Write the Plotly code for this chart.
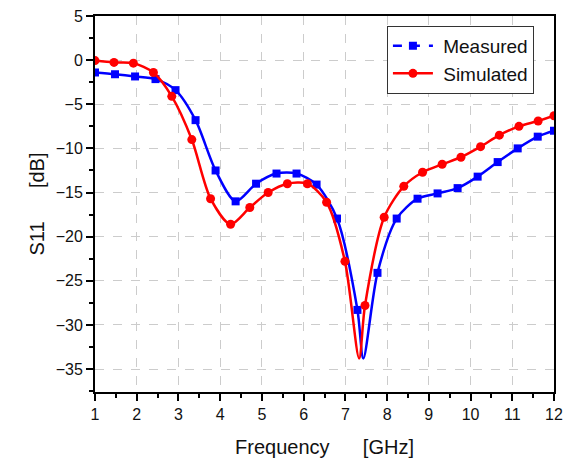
import plotly.graph_objects as go

# Measured (blue squares)
meas_x = [1.0, 1.48, 1.96, 2.45, 2.93, 3.41, 3.89, 4.37, 4.86, 5.35, 5.83, 6.31,
          6.80, 7.29, 7.77, 8.23, 8.73, 9.21, 9.69, 10.17, 10.65, 11.13, 11.61, 12.0]
meas_y = [-1.4, -1.6, -1.85, -2.15, -3.4, -6.8, -12.5, -16.0, -14.0, -12.85, -12.85, -14.1,
          -17.95, -28.3, -24.1, -17.95, -15.7, -15.1, -14.5, -13.2, -11.55, -10.0, -8.67, -8.0]
meas_min_x = [7.43]
meas_min_y = [-33.8]

# Simulated (red circles)
sim_x = [1.0, 1.455, 1.92, 2.40, 2.84, 3.32, 3.77, 4.25, 4.71, 5.15, 5.61, 6.09,
         6.55, 6.99, 7.47, 7.93, 8.40, 8.85, 9.32, 9.77, 10.24, 10.69, 11.16, 11.62, 12.0]
sim_y = [-0.05, -0.26, -0.34, -1.4, -4.1, -9.0, -15.7, -18.6, -16.7, -15.0, -14.0, -14.0,
         -16.1, -22.8, -27.8, -17.8, -14.3, -12.7, -11.8, -11.0, -9.8, -8.5, -7.5, -6.9, -6.3]
sim_min_x = [7.33]
sim_min_y = [-33.8]

BLUE = "#0000ff"
RED = "#ff0000"
NB = "\u00a0"


def with_min(xs, ys, mx, my):
    pts = sorted(zip(xs + mx, ys + my))
    return [p[0] for p in pts], [p[1] for p in pts]


fig = go.Figure()

mlx, mly = with_min(meas_x, meas_y, meas_min_x, meas_min_y)
slx, sly = with_min(sim_x, sim_y, sim_min_x, sim_min_y)

fig.add_trace(go.Scatter(x=mlx, y=mly, mode="lines", showlegend=False,
                         line=dict(color=BLUE, width=2.5, shape="spline", smoothing=0.8),
                         hoverinfo="skip"))
fig.add_trace(go.Scatter(x=meas_x, y=meas_y, mode="markers", showlegend=False,
                         marker=dict(color=BLUE, symbol="square", size=8)))
fig.add_trace(go.Scatter(x=slx, y=sly, mode="lines", showlegend=False,
                         line=dict(color=RED, width=2.5, shape="spline", smoothing=0.8),
                         hoverinfo="skip"))
fig.add_trace(go.Scatter(x=sim_x, y=sim_y, mode="markers", showlegend=False,
                         marker=dict(color=RED, symbol="circle", size=9)))

# legend entries
fig.add_trace(go.Scatter(x=[None], y=[None], mode="lines+markers", name=NB + "Measured",
                         line=dict(color=BLUE, width=2.5, dash="dash"),
                         marker=dict(color=BLUE, symbol="square", size=8)))
fig.add_trace(go.Scatter(x=[None], y=[None], mode="lines+markers", name=NB + "Simulated",
                         line=dict(color=RED, width=2.5),
                         marker=dict(color=RED, symbol="circle", size=9)))

FONT = "Liberation Sans, Arial, sans-serif"

fig.update_layout(
    width=566, height=458,
    margin=dict(l=95, r=12, t=16, b=66, autoexpand=False),
    paper_bgcolor="white", plot_bgcolor="white",
    font=dict(family=FONT, size=16, color="#111"),
    showlegend=True,
    legend=dict(x=0.636, y=0.974, xanchor="left", yanchor="top",
                bgcolor="white", bordercolor="#333", borderwidth=1,
                font=dict(size=19, color="#111"), tracegroupgap=0,
                itemwidth=40),
    xaxis=dict(
        range=[1, 12], tickmode="linear", tick0=1, dtick=1, automargin=False,
        ticklabeloverflow="allow",
        showline=True, linecolor="black", linewidth=2, mirror=True,
        ticks="outside", ticklen=7, tickwidth=2, tickcolor="black",
        minor=dict(dtick=0.5, ticks="outside", ticklen=4, tickwidth=2, tickcolor="black", showgrid=False),
        showgrid=True, gridcolor="#cccccc", gridwidth=1, griddash="dash",
        zeroline=False,
        title=dict(text="Frequency" + NB * 6 + "[GHz]", font=dict(size=20, color="#111"), standoff=19),
        tickfont=dict(size=16),
    ),
    yaxis=dict(
        range=[-37.6, 5], tickmode="linear", tick0=-35, dtick=5, automargin=False,
        ticklabeloverflow="allow",
        showline=True, linecolor="black", linewidth=2, mirror=True,
        ticks="outside", ticklen=7, tickwidth=2, tickcolor="black",
        minor=dict(dtick=2.5, ticks="outside", ticklen=4, tickwidth=2, tickcolor="black", showgrid=False),
        showgrid=True, gridcolor="#cccccc", gridwidth=1, griddash="dash",
        zeroline=False,
        title=dict(text="S11" + NB * 6 + "[dB]", font=dict(size=20, color="#111"), standoff=6),
        tickfont=dict(size=16),
    ),
)

# remove the default 8px page margin so the figure fills the window exactly
fig.write_html("out.html", config={"displayModeBar": False},
               post_script="document.body.style.margin='0px';")
